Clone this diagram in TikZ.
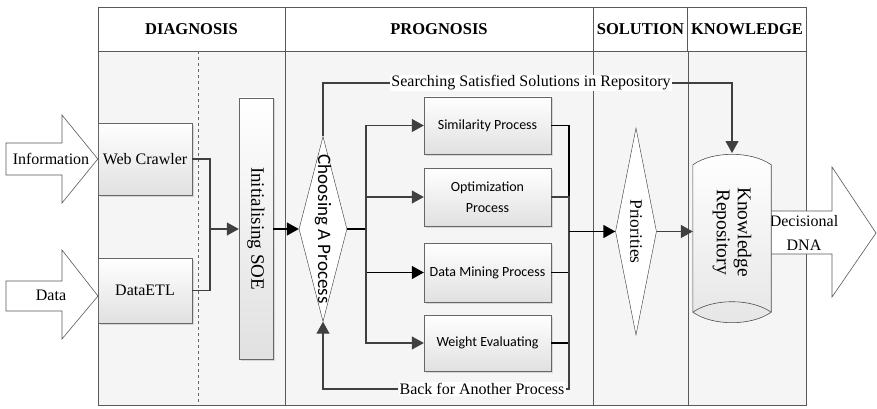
\documentclass[tikz,border=0pt]{standalone}
\usepackage{fontspec}
\setmainfont{Liberation Serif}
\newfontfamily\carlito{Carlito}
\usetikzlibrary{arrows.meta,shapes.geometric,shadows}

\begin{document}
\begin{tikzpicture}[x=1pt,y=-1pt]
%%%%%%%%%%%%%%%%%%%%%%%%%%%%%%%%%%%%%%%%%%%%%%%%%%%%%%%%
% STYLE
\tikzstyle{lane}=[rectangle,draw=black!65,line width=0.9pt,fill=black!4,minimum height=354pt]
\tikzstyle{head}=[rectangle,draw=black!65,line width=0.9pt,fill=white,minimum height=44pt,font=\fontsize{16.5}{18}\selectfont\bfseries]
\tikzstyle{box}=[rectangle,draw=black!60,top color=white,bottom color=black!12,drop shadow={shadow xshift=1.5pt,shadow yshift=-1.5pt,opacity=0.25}]
\tikzstyle{proc}=[box,minimum width=127pt,font=\carlito\fontsize{14}{21}\selectfont,align=center]
\tikzstyle{choice}=[diamond,draw=black!80,fill=white,inner sep=0pt]
\tikzstyle{txt}=[font=\fontsize{16}{24}\selectfont,align=center]
\tikzstyle{tag}=[txt,fill=white,inner sep=1pt]
\tikzstyle{fat}=[draw=black!65,fill=white,line width=0.6pt]

\tikzset{link/.style={-{Triangle[length=12pt,width=13pt]},draw=black!75,line width=1.1pt}}
\tikzset{wire/.style={draw=black!75,line width=1.1pt}}

\useasboundingbox (0,0) rectangle (877,409);

%%%%%%%%%%%%%%%%%%%%%%%%%%%%%%%%%%%%%%%%%%%%%%%%%%%%%%%%
% LANES
\node[lane,minimum width=187pt] (LDiag) at (191.5,228) {};
\node[lane,minimum width=308pt] (LProg) at (439,228) {};
\node[lane,minimum width=95pt] (LSol) at (640.5,228) {};
\node[lane,minimum width=118pt] (LKnow) at (747,228) {};

\node[head,minimum width=187pt] (HDiag) at (191.5,29) {DIAGNOSIS};
\node[head,minimum width=308pt] (HProg) at (439,29) {PROGNOSIS};
\node[head,minimum width=95pt] (HSol) at (640.5,29) {SOLUTION};
\node[head,minimum width=118pt] (HKnow) at (747,29) {KNOWLEDGE};

\draw[dashed,black!60] (198,51) -- (198,405);

%%%%%%%%%%%%%%%%%%%%%%%%%%%%%%%%%%%%%%%%%%%%%%%%%%%%%%%%
% NODES
\node[box,minimum width=94pt,minimum height=72pt,txt] (Web) at (145,159) {Web Crawler};
\node[box,minimum width=94pt,minimum height=65pt,txt] (ETL) at (145,290.5) {DataETL};

\draw[fat] (6,143) -- (62,143) -- (62,115) -- (Web.west) -- (62,203) -- (62,175) -- (6,175) -- cycle;
\node[txt] (Info) at (51,159) {Information};
\draw[fat] (6,281) -- (62,281) -- (62,250) -- (98,296) -- (62,339) -- (62,311) -- (6,311) -- cycle;
\node[txt] (Data) at (51,295) {Data};

\node[box,minimum width=34pt,minimum height=261pt,font=\fontsize{19}{21}\selectfont] (SOE) at (256,228.5) {\rotatebox{-90}{Initialising SOE}};

\node[choice,minimum width=48pt,minimum height=185pt,font=\carlito\fontsize{19}{21}\selectfont] (Choose) at (323,229) {\rotatebox{-90}{\makebox[0pt]{Choosing A Process}}};

\node[proc,minimum height=57pt] (Sim) at (487.5,125.5) {Similarity Process};
\node[proc,minimum height=58pt] (Opt) at (487.5,197) {Optimization\\Process};
\node[proc,minimum height=59pt] (Mine) at (487.5,272.5) {Data Mining Process};
\node[proc,minimum height=56pt] (Wei) at (487.5,343) {Weight Evaluating};

\node[tag] (Search) at (531,83) {Searching Satisfied Solutions in Repository};
\node[tag] (Back) at (482,389) {Back for Another Process};

\node[choice,minimum width=41pt,minimum height=207pt,font=\fontsize{17.5}{19}\selectfont] (Prio) at (636,231.5) {\rotatebox{-90}{\makebox[0pt]{Priorities}}};

\draw[fat] (771,211) -- (832,211) -- (832,167) -- (876,233) -- (832,297) -- (832,254) -- (771,254);
\node[txt] (DNA) at (804,233) {Decisional\\DNA};

\node[minimum width=78pt,minimum height=147pt,inner sep=0pt] (KR) at (732,238.5) {};
\shade[top color=white,bottom color=black!10,draw=black!70,line width=0.6pt] (KR.north west) .. controls +(20,-14) and +(-20,-14) .. (KR.north east) -- (KR.south east) .. controls +(-20,14) and +(20,14) .. (KR.south west) -- cycle;
\draw[black!70,line width=0.6pt] (KR.south west) .. controls +(20,-14) and +(-20,-14) .. (KR.south east);
\node[txt,rotate=-90,font=\fontsize{19.5}{21}\selectfont] (KRtxt) at (732,232) {Knowledge\\Repository};

%%%%%%%%%%%%%%%%%%%%%%%%%%%%%%%%%%%%%%%%%%%%%%%%%%%%%%%%
% LINKS
\coordinate (J1) at (210,229);
\coordinate (J2) at (366,229);
\coordinate (J3) at (569,231.5);
\coordinate (KRtop) at (732,153);

\draw[wire] (Web.east) -| (J1);
\draw[wire] (ETL.east) -| (J1);
\draw[link] (J1) -- (J1 -| SOE.west);
\draw[link,draw=black] (SOE.east |- Choose.west) -- (Choose.west);

\draw[wire,draw=black,line width=1.5pt] (Choose.east) -- (J2);
\draw[link] (J2) |- (Sim.west);
\draw[link] (J2) |- (Opt.west);
\draw[link,draw=black,line width=1.5pt] (J2) |- (Mine.west);
\draw[link] (J2) |- (Wei.west);

\draw[wire,draw=black] (Sim.east) -| (J3);
\draw[wire] (Opt.east) -| (J3);
\draw[wire,draw=black] (Mine.east) -| (J3);
\draw[wire,draw=black] (Wei.east) -| (J3);
\draw[wire] (J3) |- (Back.east);
\draw[link] (Back.west) -| (Choose.south);
\draw[link,draw=black,line width=1.6pt] (J3) -- (Prio.west);

\draw[wire] (Choose.north) |- (Search.west);
\draw[link] (Search.east) -| (KRtop);
\draw[link] (Prio.east) -- (Prio.east -| KR.west);

\end{tikzpicture}
\end{document}
